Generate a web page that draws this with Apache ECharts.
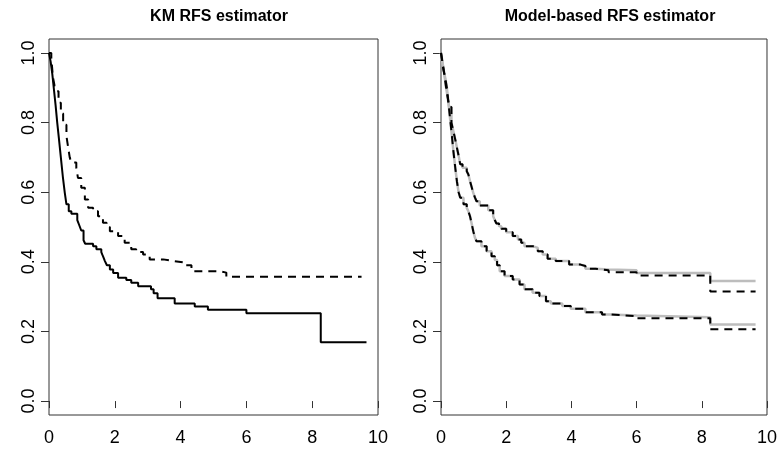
<!DOCTYPE html>
<html>
<head>
<meta charset="utf-8">
<script src="https://cdn.jsdelivr.net/npm/echarts@6/dist/echarts.min.js"></script>
<style>html,body{margin:0;padding:0;background:#fff;}#c{width:780px;height:450px;}</style>
</head>
<body>
<div id="c"></div>
<script>
// ---- data ----
var panelTitles = ['KM RFS estimator', 'Model-based RFS estimator'];
var xTicks = [0, 2, 4, 6, 8, 10];
var yTicks = [0, 0.2, 0.4, 0.6, 0.8, 1.0];

// Left panel: Kaplan-Meier
var kmSolidT = [0, 0.05, 0.1, 0.15, 0.2, 0.25, 0.3, 0.36, 0.42, 0.48, 0.53, 0.6, 0.68, 0.86, 0.92, 0.98, 1.05, 1.1, 1.34, 1.44, 1.59, 1.64, 1.7, 1.76, 1.85, 1.95, 2.1, 2.35, 2.5, 2.71, 3.1, 3.18, 3.3, 3.82, 4.43, 4.83, 6.0, 8.26, 9.65];
var kmSolidS = [1.0, 0.975, 0.94, 0.895, 0.85, 0.8, 0.755, 0.7, 0.645, 0.598, 0.565, 0.545, 0.538, 0.52, 0.505, 0.49, 0.462, 0.452, 0.445, 0.436, 0.428, 0.416, 0.402, 0.39, 0.378, 0.368, 0.354, 0.348, 0.34, 0.33, 0.321, 0.31, 0.295, 0.28, 0.272, 0.262, 0.252, 0.169, 0.169];
var kmDashT = [0, 0.07, 0.12, 0.17, 0.22, 0.29, 0.36, 0.43, 0.53, 0.58, 0.63, 0.68, 0.83, 0.88, 0.98, 1.09, 1.19, 1.34, 1.49, 1.64, 1.75, 1.85, 2.1, 2.3, 2.5, 2.65, 2.86, 3.06, 3.47, 3.82, 4.17, 4.33, 5.19, 5.39, 9.5];
var kmDashS = [1.0, 0.985, 0.93, 0.905, 0.89, 0.857, 0.826, 0.794, 0.761, 0.73, 0.7, 0.685, 0.67, 0.641, 0.613, 0.579, 0.555, 0.545, 0.531, 0.512, 0.5, 0.488, 0.474, 0.455, 0.436, 0.428, 0.421, 0.407, 0.402, 0.397, 0.39, 0.373, 0.369, 0.357, 0.357];

// Right panel: model-based (grey solid) and dashed
var upT = [0, 0.05, 0.1, 0.15, 0.2, 0.25, 0.32, 0.38, 0.44, 0.49, 0.54, 0.59, 0.66, 0.79, 0.84, 0.89, 0.94, 0.99, 1.04, 1.09, 1.19, 1.45, 1.6, 1.65, 1.7, 1.78, 1.85, 2.0, 2.2, 2.36, 2.46, 2.56, 2.81, 2.97, 3.12, 3.27, 3.52, 3.93, 4.28, 4.43, 4.74, 5.14, 6.0, 8.26, 9.65];
var upGreyS = [1.0, 0.97, 0.94, 0.905, 0.875, 0.845, 0.8, 0.775, 0.75, 0.727, 0.705, 0.68, 0.67, 0.66, 0.651, 0.632, 0.615, 0.598, 0.585, 0.574, 0.562, 0.548, 0.531, 0.52, 0.51, 0.502, 0.495, 0.485, 0.474, 0.464, 0.455, 0.445, 0.44, 0.43, 0.421, 0.409, 0.402, 0.392, 0.388, 0.38, 0.378, 0.376, 0.368, 0.345, 0.345];
var upDashS = [1.0, 0.97, 0.94, 0.905, 0.875, 0.845, 0.8, 0.775, 0.75, 0.727, 0.705, 0.68, 0.67, 0.66, 0.651, 0.632, 0.615, 0.598, 0.585, 0.574, 0.562, 0.548, 0.531, 0.52, 0.51, 0.502, 0.495, 0.485, 0.474, 0.464, 0.455, 0.445, 0.44, 0.43, 0.421, 0.409, 0.402, 0.392, 0.388, 0.38, 0.376, 0.37, 0.361, 0.315, 0.315];
var loT = [0, 0.04, 0.08, 0.13, 0.18, 0.23, 0.28, 0.33, 0.38, 0.44, 0.49, 0.54, 0.59, 0.69, 0.79, 0.84, 0.89, 0.94, 0.99, 1.04, 1.09, 1.24, 1.4, 1.55, 1.65, 1.72, 1.8, 1.95, 2.2, 2.41, 2.56, 2.81, 3.02, 3.22, 3.37, 3.72, 3.98, 4.43, 4.94, 5.19, 6.0, 8.26, 9.65];
var loGreyS = [1.0, 0.975, 0.95, 0.928, 0.9, 0.855, 0.81, 0.766, 0.718, 0.668, 0.63, 0.6, 0.584, 0.565, 0.555, 0.545, 0.531, 0.51, 0.488, 0.47, 0.459, 0.445, 0.43, 0.416, 0.405, 0.39, 0.373, 0.359, 0.349, 0.335, 0.321, 0.311, 0.302, 0.287, 0.28, 0.273, 0.265, 0.255, 0.249, 0.246, 0.241, 0.22, 0.22];
var loDashS = [1.0, 0.975, 0.95, 0.928, 0.9, 0.855, 0.81, 0.766, 0.718, 0.668, 0.63, 0.6, 0.584, 0.565, 0.555, 0.545, 0.531, 0.51, 0.488, 0.47, 0.459, 0.445, 0.43, 0.416, 0.405, 0.39, 0.373, 0.359, 0.349, 0.335, 0.321, 0.311, 0.302, 0.287, 0.28, 0.273, 0.265, 0.255, 0.249, 0.244, 0.238, 0.206, 0.206];

function pairs(t, s) { return t.map(function (v, i) { return [v, s[i]]; }); }

var FONT = 'Liberation Sans, Arial, sans-serif';
var grids = [
  { left: 49, top: 39, width: 329, height: 376 },
  { left: 441, top: 39, width: 329, height: 376 }
];
function gridOpt(g) {
  return { left: g.left, top: g.top, width: g.width, height: g.height, show: true,
           borderColor: '#333', borderWidth: 1, backgroundColor: 'transparent', containLabel: false };
}
function xAx(i) {
  return { type: 'value', gridIndex: i, min: 0, max: 10, interval: 2,
    axisLine: { show: false }, splitLine: { show: false },
    axisTick: { show: true, inside: false, length: 7, lineStyle: { color: '#333' } },
    axisLabel: { show: true, margin: 14, fontSize: 18, color: '#000', fontFamily: FONT,
      customValues: xTicks, showMinLabel: true, showMaxLabel: true } };
}
function yAx(i) {
  return { type: 'value', gridIndex: i, min: -0.04, max: 1.04,
    axisLine: { show: false }, splitLine: { show: false },
    axisTick: { show: true, inside: false, length: 8, customValues: yTicks, lineStyle: { color: '#333' } },
    axisLabel: { show: true, margin: 11, fontSize: 18, color: '#000', fontFamily: FONT, rotate: 90,
      customValues: yTicks, formatter: function (v) { return v.toFixed(1); } } };
}
function line(name, idx, data, color, width, dash, z) {
  return { name: name, type: 'line', xAxisIndex: idx, yAxisIndex: idx, data: data, step: 'end',
    showSymbol: false, symbol: 'none', animation: false, z: z,
    lineStyle: { color: color, width: width, type: dash ? [8, 6] : 'solid', cap: 'butt' } };
}

var option = {
  animation: false,
  backgroundColor: '#fff',
  title: [
    { text: panelTitles[0], left: 214, top: 4, textAlign: 'center',
      textStyle: { fontSize: 16, fontWeight: 'bold', fontFamily: FONT, color: '#000' } },
    { text: panelTitles[1], left: 605, top: 4, textAlign: 'center',
      textStyle: { fontSize: 16, fontWeight: 'bold', fontFamily: FONT, color: '#000' } }
  ],
  grid: [gridOpt(grids[0]), gridOpt(grids[1])],
  xAxis: [xAx(0), xAx(1)],
  yAxis: [yAx(0), yAx(1)],
  series: [
    line('KM solid', 0, pairs(kmSolidT, kmSolidS), '#000', 2, false, 3),
    line('KM dashed', 0, pairs(kmDashT, kmDashS), '#000', 2, true, 3),
    line('Model upper', 1, pairs(upT, upGreyS), '#bdbdbd', 2.5, false, 2),
    line('Model lower', 1, pairs(loT, loGreyS), '#bdbdbd', 2.5, false, 2),
    line('Dashed upper', 1, pairs(upT, upDashS), '#000', 2, true, 3),
    line('Dashed lower', 1, pairs(loT, loDashS), '#000', 2, true, 3)
  ]
};
var chart = echarts.init(document.getElementById('c'), null, { renderer: 'canvas' });
chart.setOption(option);
</script>
</body>
</html>
